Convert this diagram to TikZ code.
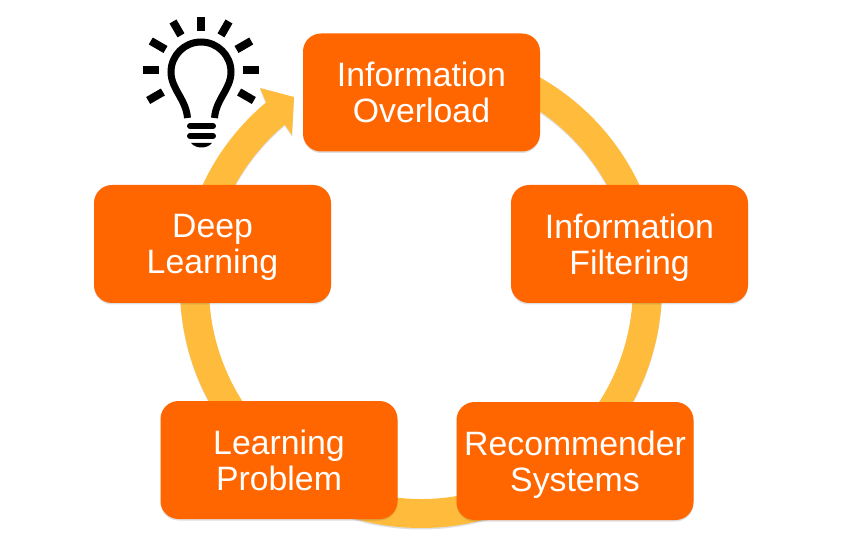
\documentclass[tikz,border=0pt]{standalone}
\usepackage{fontspec}
\setmainfont{Liberation Sans}
\usetikzlibrary{shadows,calc}

\definecolor{boxorange}{HTML}{FF6600}
\definecolor{ringyellow}{HTML}{FFBB3B}

\tikzset{
	softshadow/.style = {drop shadow={shadow xshift=0pt,shadow yshift=-1.5pt,opacity=0.18,fill=black!70}},
	stagebox/.style = {fill=boxorange,text=white,rounded corners=18pt,minimum width=237pt,minimum height=118pt,
		inner sep=0pt,align=center,text depth=0pt,font=\fontsize{33.8}{36}\selectfont,softshadow},
	bulbline/.style = {draw=black,line width=7pt,line cap=butt},
	bulbbar/.style = {draw=black,line width=6pt,line cap=round}
}

\begin{document}
\begin{tikzpicture}[x=1pt,y=1pt]
	\useasboundingbox (0,0) rectangle (842,549);

	\def \R {241}
	\def \r {212}

	% the ring, its tail ends under the first box
	\fill[ringyellow,softshadow] (421,262) ++(130:\R) arc (130:440:\R)
		-- ($(421,262)+(80:\r)$) arc (440:130:\r)
		-- (292,414) -- (294,452) -- (260,461) -- cycle;

	% the five boxes
	\node[stagebox] (overload) at (421.5,456.5) {Information\\Overload};
	\node[stagebox] (filtering) at (629.5,305) {Information\\Filtering};
	\node[stagebox] (recommender) at (575,88) {Recommender\\Systems};
	\node[stagebox] (problem) at (279,89) {Learning\\Problem};
	\node[stagebox] (deep) at (212.5,305) {Deep\\Learning};

	% the bulb
	\coordinate (bulb) at (201,479);
	\foreach \a/\i/\o in {90/39/53,60/40/56,120/40/56,30/41/58,150/41/58,0/42/58,180/42/58,-30/44/61,210/44/61} {
		\draw[line width=8pt] ($(bulb)+(\a:\i)$) -- ($(bulb)+(\a:\o)$);
	}
	\draw[bulbline] (187.5,431) .. controls (186,450) and (171,460) .. (171,477)
		arc (180:0:30)
		.. controls (231,460) and (216,450) .. (214.5,431);
	\draw[bulbbar] (190,423) -- (213,423);
	\draw[bulbbar] (190,413) -- (213,413);
	\fill (191,406) .. controls (196,400) and (207,400) .. (212,406) -- cycle;
\end{tikzpicture}
\end{document}
